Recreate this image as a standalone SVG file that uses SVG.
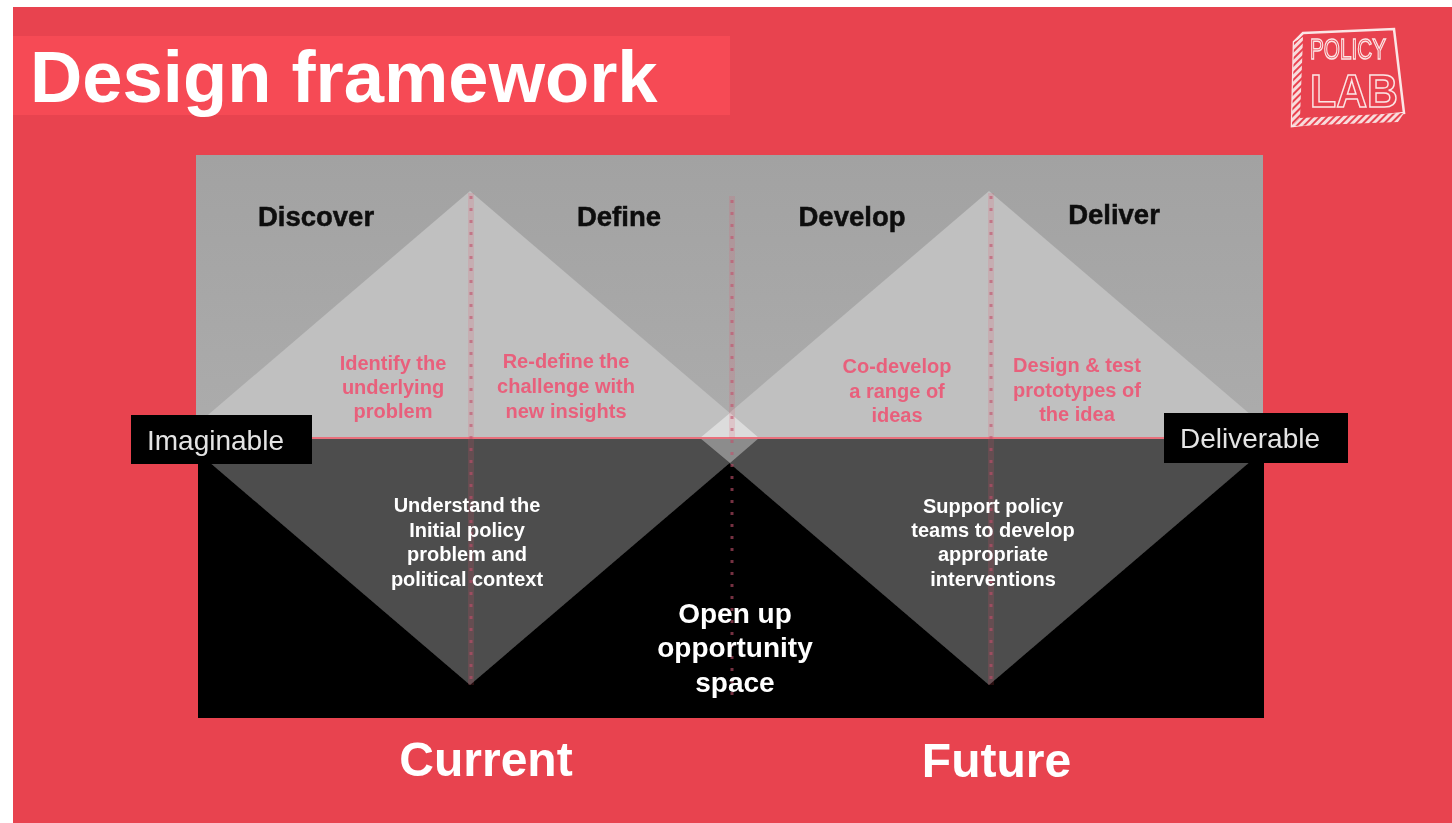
<svg xmlns="http://www.w3.org/2000/svg" width="1452" height="823" viewBox="0 0 1452 823">
<defs>
<linearGradient id="grayBg" x1="0" y1="0" x2="0" y2="1"><stop offset="0" stop-color="#a2a2a2"/><stop offset="1" stop-color="#acacac"/></linearGradient>
<filter id="soft" x="-5%" y="-5%" width="110%" height="110%"><feGaussianBlur stdDeviation="0.7"/></filter>
<pattern id="hatch" width="5" height="5" patternUnits="userSpaceOnUse" patternTransform="rotate(45)"><rect width="5" height="5" fill="#f8dcdc"/><rect width="2" height="5" fill="#e94350"/></pattern>
</defs>
<style>
text{font-family:"Liberation Sans",Arial,sans-serif}
.b{font-weight:700}
.h{font-size:27.5px;font-weight:700;fill:#0c0c0c;stroke:#0c0c0c;stroke-width:.5;text-anchor:middle}
.p{font-size:20px;font-weight:700;fill:#e8607c;text-anchor:middle}
.w{font-size:20px;font-weight:700;fill:#fff;text-anchor:middle}
.o{font-size:28px;font-weight:700;fill:#fff;text-anchor:middle}
.t{font-size:48px;font-weight:700;fill:#fff;text-anchor:middle}
.l{font-size:28px;fill:#e4e4e4;text-anchor:middle}
.haze{stroke:#e8506a;stroke-width:6;opacity:.16;fill:none}
.dot{stroke:#c2506a;stroke-width:3;stroke-dasharray:3 9;fill:none;opacity:.6}
.logo{fill:none;stroke:#fbe6e6;stroke-width:1.5;text-anchor:middle}
</style>
<rect width="1452" height="823" fill="#fff"/>
<rect x="13" y="7" width="1439" height="816" fill="#e8434f"/>
<rect x="13" y="36" width="717" height="79" fill="#f64a55"/>
<g filter="url(#soft)">
<g id="title"><text class="b" x="30" y="102" font-size="72.4" fill="#fff">Design framework</text></g>
<g id="logo">
<path d="M1303 33L1394 29L1404 113L1292 126L1294 42Z" fill="#e8434f" stroke="#fbe6e6" stroke-width="2.5"/>
<path d="M1294 42L1303 37L1300 118L1292 126Z" fill="url(#hatch)"/>
<path d="M1292 126L1300 118L1404 113L1398 122Z" fill="url(#hatch)"/>
<text class="logo" x="1348" y="59" font-size="30" textLength="76" lengthAdjust="spacingAndGlyphs">POLICY</text>
<text class="logo" x="1354" y="107" font-size="46" font-weight="700" textLength="88" lengthAdjust="spacingAndGlyphs">LAB</text>
</g>
<g id="panels">
<rect x="196" y="155" width="1067" height="283" fill="url(#grayBg)"/>
<rect x="198" y="438" width="1066" height="280" fill="#000"/>
</g>
<g id="diamond-current">
<path d="M470 191L759 438H181Z" fill="#c0c0c0"/>
<path d="M181 438H759L470 685Z" fill="#4d4d4d"/>
</g>
<g id="diamond-future">
<path d="M989 191L1278 438H700Z" fill="#c0c0c0"/>
<path d="M700 438H1278L989 685Z" fill="#4d4d4d"/>
</g>
<g id="overlap">
<path d="M730 413L759 438H700Z" fill="#dcdcdc"/>
<path d="M700 438H759L730 463Z" fill="#8c8c8c"/>
</g>
<g id="connectors">
<path d="M198 438H1264" stroke="#e9707c" stroke-width="2" fill="none"/>
<path class="haze" d="M471 193V685"/>
<path class="haze" d="M732 196V438"/>
<path class="haze" d="M991 193V685"/>
<path class="dot" d="M471 196V685"/>
<path class="dot" d="M732 200V700"/>
<path class="dot" d="M991 196V685"/>
</g>
<g id="phase-labels">
<text class="h" x="316" y="226">Discover</text>
<text class="h" x="619" y="226">Define</text>
<text class="h" x="852" y="226">Develop</text>
<text class="h" x="1114" y="224">Deliver</text>
</g>
<g id="pink-labels">
<text class="p" x="393" y="370">Identify the</text><text class="p" x="393" y="394">underlying</text><text class="p" x="393" y="418">problem</text>
<text class="p" x="566" y="368">Re-define the</text><text class="p" x="566" y="393">challenge with</text><text class="p" x="566" y="418">new insights</text>
<text class="p" x="897" y="373">Co-develop</text><text class="p" x="897" y="398">a range of</text><text class="p" x="897" y="422">ideas</text>
<text class="p" x="1077" y="372">Design &amp; test</text><text class="p" x="1077" y="397">prototypes of</text><text class="p" x="1077" y="421">the idea</text>
</g>
<g id="white-labels">
<text class="w" x="467" y="512">Understand the</text><text class="w" x="467" y="537">Initial policy</text><text class="w" x="467" y="561">problem and</text><text class="w" x="467" y="586">political context</text>
<text class="w" x="993" y="513">Support policy</text><text class="w" x="993" y="537">teams to develop</text><text class="w" x="993" y="561">appropriate</text><text class="w" x="993" y="586">interventions</text>
<text class="o" x="735" y="623">Open up</text><text class="o" x="735" y="657">opportunity</text><text class="o" x="735" y="692">space</text>
</g>
<g id="imaginable"><rect x="131" y="415" width="181" height="49" fill="#000"/><text class="l" x="215.500" y="450">Imaginable</text></g>
<g id="deliverable"><rect x="1164" y="413" width="184" height="50" fill="#000"/><text class="l" x="1250" y="448">Deliverable</text></g>
<g id="axis-labels">
<text class="t" x="486" y="776">Current</text>
<text class="t" x="996.500" y="777">Future</text>
</g>
</g>
</svg>
